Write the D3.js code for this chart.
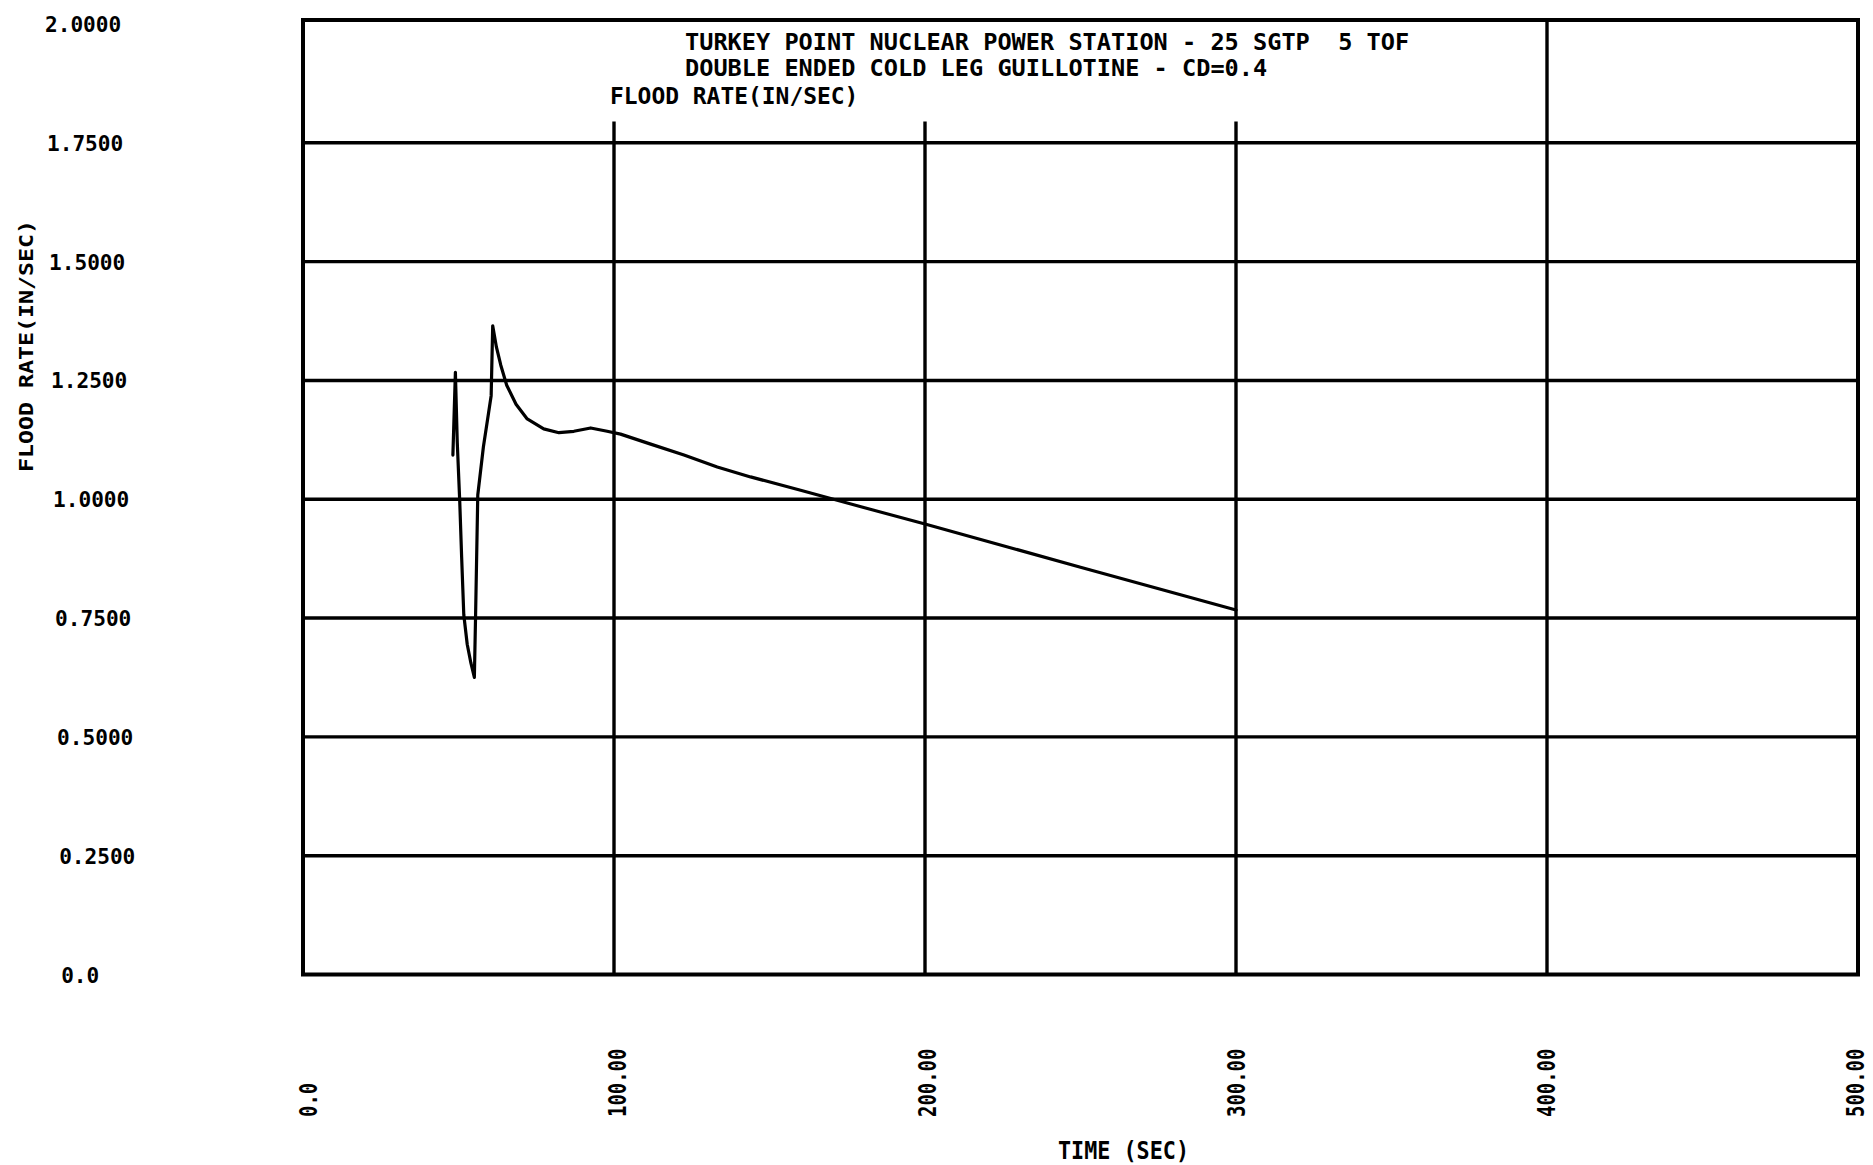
<!DOCTYPE html>
<html>
<head>
<meta charset="utf-8">
<script src="https://cdn.jsdelivr.net/npm/d3@7"></script>
<style>
  body { margin: 0; background: #fff; }
  svg text { font-family: 'DejaVu Sans Mono', 'Liberation Mono', monospace; font-weight: bold; fill: #000; white-space: pre; }
</style>
</head>
<body>
<div id="container"></div>
<script>
/* CONSTANTS AND GLOBALS */
const width = 1873,
  height = 1165,
  plot = { left: 303, right: 1858, top: 24, bottom: 974.5, frameTop: 20 }

/* DATA */
const timeSec = [48.2, 49.0, 49.6, 50.4, 51.0, 51.7, 52.8, 54.0, 55.1, 55.5, 56.2, 58.0, 59.7, 60.5,
  61.0, 62.2, 63.6, 65.5, 68.5, 72.1, 77.4, 82.3, 87.1, 92.5, 97.8, 102.1, 111.8, 122.5, 133.2, 143.9,
  160.0, 180.0, 200.0, 250.0, 300.0]
const floodRate = [1.093, 1.267, 1.120, 0.995, 0.880, 0.757, 0.695, 0.655, 0.625, 0.758, 1.009, 1.110,
  1.183, 1.218, 1.365, 1.320, 1.282, 1.240, 1.200, 1.169, 1.148, 1.140, 1.143, 1.150, 1.143, 1.137, 1.116,
  1.093, 1.068, 1.047, 1.019, 0.983, 0.948, 0.857, 0.767]

const yTicks = [0, 0.25, 0.5, 0.75, 1.0, 1.25, 1.5, 1.75, 2.0]
const yTickLabels = ['0.0', '0.2500', '0.5000', '0.7500', '1.0000', '1.2500', '1.5000', '1.7500', '2.0000']
const xTicks = [0, 100, 200, 300, 400, 500]
const xTickLabels = ['0.0', '100.00', '200.00', '300.00', '400.00', '500.00']
const titleLines = [
  'TURKEY POINT NUCLEAR POWER STATION - 25 SGTP  5 TOF',
  'DOUBLE ENDED COLD LEG GUILLOTINE - CD=0.4'
]
const curveLabel = 'FLOOD RATE(IN/SEC)'
const xTitle = 'TIME (SEC)'
const yTitle = 'FLOOD RATE(IN/SEC)'

/* SCALES */
const xScale = d3.scaleLinear().domain([0, 500]).range([plot.left, plot.right])
const yScale = d3.scaleLinear().domain([0, 2]).range([plot.bottom, plot.top])

const svg = d3.select('#container')
  .append('svg')
  .attr('width', width)
  .attr('height', height)

svg.append('rect')
  .attr('width', width)
  .attr('height', height)
  .attr('fill', '#fff')

// + GRID (horizontal lines across the frame)
svg.append('g')
  .selectAll('line')
  .data(yTicks.filter(d => d > 0 && d < 2))
  .join('line')
  .attr('x1', xScale(0))
  .attr('x2', xScale(500))
  .attr('y1', d => yScale(d))
  .attr('y2', d => yScale(d))
  .attr('stroke', '#000')
  .attr('stroke-width', 3.4)

// vertical lines: 100-300 stop below the curve label, 400 runs to the top
svg.append('g')
  .selectAll('line')
  .data(xTicks.filter(d => d > 0 && d < 500))
  .join('line')
  .attr('x1', d => xScale(d))
  .attr('x2', d => xScale(d))
  .attr('y1', yScale(0))
  .attr('y2', d => d < 400 ? yScale(1.795) : plot.frameTop)
  .attr('stroke', '#000')
  .attr('stroke-width', 3.4)

// frame
svg.append('rect')
  .attr('x', xScale(0))
  .attr('y', plot.frameTop)
  .attr('width', xScale(500) - xScale(0))
  .attr('height', yScale(0) - plot.frameTop)
  .attr('fill', 'none')
  .attr('stroke', '#000')
  .attr('stroke-width', 4)

// + CURVE
const line = d3.line()
  .x(d => xScale(d[0]))
  .y(d => yScale(d[1]))

svg.append('path')
  .datum(timeSec.map((t, i) => [t, floodRate[i]]))
  .attr('d', line)
  .attr('fill', 'none')
  .attr('stroke', '#000')
  .attr('stroke-width', 3.2)
  .attr('stroke-linejoin', 'round')
  .attr('stroke-linecap', 'round')

// + Y TICK LABELS
svg.append('g')
  .selectAll('text')
  .data(yTicks)
  .join('text')
  .attr('x', d => 45 + (yScale(d) - yScale(2)) * 0.017)
  .attr('y', d => yScale(d) + 8)
  .attr('font-size', 22)
  .attr('textLength', (d, i) => yTickLabels[i].length * 12.7)
  .attr('lengthAdjust', 'spacingAndGlyphs')
  .text((d, i) => yTickLabels[i])

// + X TICK LABELS (rotated, read bottom to top)
svg.append('g')
  .selectAll('text')
  .data(xTicks)
  .join('text')
  .attr('transform', d => `translate(${xScale(d) + 14 - d * 0.016}, 1117) rotate(-90)`)
  .attr('font-size', 24)
  .attr('textLength', (d, i) => xTickLabels[i].length * 11.4)
  .attr('lengthAdjust', 'spacingAndGlyphs')
  .text((d, i) => xTickLabels[i])

// + TITLES
svg.append('g')
  .selectAll('text')
  .data(titleLines)
  .join('text')
  .attr('x', 685)
  .attr('y', (d, i) => 50 + i * 26)
  .attr('font-size', 23)
  .attr('textLength', d => d.length * 14.2)
  .attr('lengthAdjust', 'spacingAndGlyphs')
  .text(d => d)

svg.append('text')
  .attr('x', 610)
  .attr('y', 104)
  .attr('font-size', 23)
  .attr('textLength', curveLabel.length * 13.8)
  .attr('lengthAdjust', 'spacingAndGlyphs')
  .text(curveLabel)

// + AXIS TITLES
svg.append('text')
  .attr('x', 1058)
  .attr('y', 1159)
  .attr('font-size', 24)
  .attr('textLength', 131)
  .attr('lengthAdjust', 'spacingAndGlyphs')
  .text(xTitle)

svg.append('text')
  .attr('transform', 'translate(33, 346) rotate(-90)')
  .attr('text-anchor', 'middle')
  .attr('font-size', 20)
  .attr('textLength', 252)
  .attr('lengthAdjust', 'spacingAndGlyphs')
  .text(yTitle)
</script>
</body>
</html>
